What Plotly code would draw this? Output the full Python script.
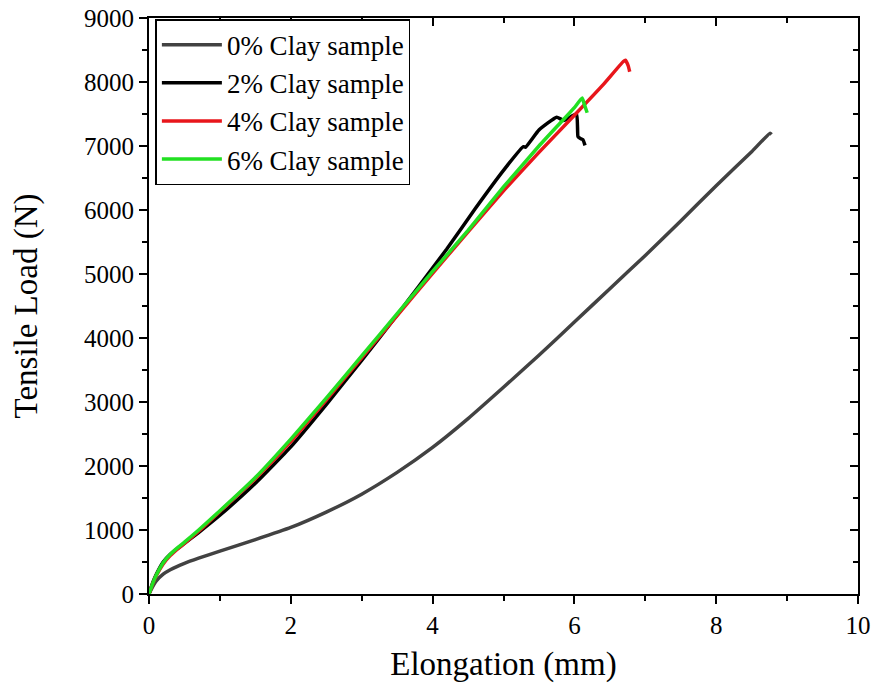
import plotly.graph_objects as go

# 0% clay
x0 = [0, 0.05, 0.1, 0.2, 0.3, 0.5, 0.7, 1.0, 1.5, 2, 2.5, 3, 3.5, 4, 4.5, 5, 5.5, 6, 6.5, 7, 7.5, 8, 8.5, 8.76, 8.78]
y0 = [0, 110, 200, 310, 380, 480, 560, 670, 850, 1040, 1280, 1560, 1900, 2290, 2740, 3230, 3730, 4250, 4770, 5290, 5830, 6380, 6910, 7200, 7180]
# 2% clay
x2 = [0, 0.05, 0.1, 0.2, 0.3, 0.4, 0.5, 0.7, 1.0, 1.5, 2, 2.5, 3, 3.5, 3.8, 4.2, 4.6, 5.0, 5.28, 5.31, 5.5, 5.75, 5.85, 6.03, 6.05, 6.08, 6.12, 6.15]
y2 = [0, 170, 300, 500, 620, 710, 790, 960, 1230, 1730, 2300, 2960, 3650, 4360, 4800, 5390, 6020, 6620, 6990, 6980, 7250, 7450, 7400, 7500, 7150, 7120, 7100, 7010]
# 4% clay
x4 = [0, 0.05, 0.1, 0.2, 0.3, 0.4, 0.5, 0.7, 1.0, 1.5, 2, 2.5, 3, 3.5, 4, 4.5, 5, 5.5, 6, 6.4, 6.69, 6.72, 6.76, 6.78]
y4 = [0, 150, 280, 470, 600, 700, 790, 980, 1290, 1800, 2380, 3030, 3690, 4350, 5010, 5660, 6300, 6900, 7480, 7950, 8320, 8340, 8250, 8160]
# 6% clay
x6 = [0, 0.05, 0.1, 0.2, 0.3, 0.4, 0.5, 0.7, 1.0, 1.5, 2, 2.5, 3, 3.5, 4, 4.5, 5, 5.5, 5.8, 6.0, 6.11, 6.14, 6.18]
y6 = [0, 160, 290, 490, 620, 720, 810, 1000, 1300, 1820, 2420, 3060, 3720, 4380, 5040, 5680, 6360, 7000, 7360, 7600, 7750, 7650, 7520]

names = ["0% Clay sample", "2% Clay sample", "4% Clay sample", "6% Clay sample"]
colors = ["#424242", "#000000", "#e8161b", "#22e022"]
xs = [x0, x2, x4, x6]
ys = [y0, y2, y4, y6]

FONT = "Liberation Serif, Times New Roman, serif"

fig = go.Figure()
for x, y, n, c in zip(xs, ys, names, colors):
    fig.add_trace(go.Scatter(x=x, y=y, mode="lines", name=n,
                             line=dict(color=c, width=3.5, shape="spline", smoothing=0.4)))

# helper empty trace for the mirrored (top/right) axes
fig.add_trace(go.Scatter(x=[], y=[], xaxis="x2", yaxis="y2", showlegend=False, hoverinfo="skip"))

axis_common = dict(showgrid=False, zeroline=False, showline=True, linecolor="black", linewidth=2,
                   tickcolor="black", tickwidth=1.5, automargin=False)

fig.update_layout(
    width=878, height=683,
    margin=dict(l=149, r=20, t=18, b=89),
    paper_bgcolor="white", plot_bgcolor="white",
    font=dict(family=FONT, color="black"),
    xaxis=dict(range=[0, 10], dtick=2, tick0=0, ticks="outside", ticklen=8,
               minor=dict(dtick=1, ticks="outside", ticklen=5, tickcolor="black", tickwidth=1.5),
               tickfont=dict(size=25, family=FONT),
               title=dict(text="Elongation (mm)", font=dict(size=33, family=FONT), standoff=16),
               **axis_common),
    yaxis=dict(range=[0, 9000], dtick=1000, tick0=0, ticks="outside", ticklen=8,
               minor=dict(dtick=500, ticks="outside", ticklen=5, tickcolor="black", tickwidth=1.5),
               tickfont=dict(size=25, family=FONT),
               title=dict(text="Tensile Load (N)", font=dict(size=33, family=FONT), standoff=36),
               **axis_common),
    xaxis2=dict(range=[0, 10], dtick=2, tick0=0, overlaying="x", side="top", anchor="y2",
                ticks="inside", ticklen=8, showticklabels=False,
                minor=dict(dtick=1, ticks="inside", ticklen=5, tickcolor="black", tickwidth=1.5),
                **axis_common),
    yaxis2=dict(range=[0, 9000], dtick=1000, tick0=0, overlaying="y", side="right", anchor="x2",
                ticks="inside", ticklen=8, showticklabels=False,
                minor=dict(dtick=500, ticks="inside", ticklen=5, tickcolor="black", tickwidth=1.5),
                **axis_common),
    legend=dict(x=0.009, y=0.998, xanchor="left", yanchor="top",
                bgcolor="white", bordercolor="black", borderwidth=1.5,
                font=dict(size=27, family=FONT), tracegroupgap=0, itemwidth=60),
    showlegend=True,
)

fig.write_html("out.html")
